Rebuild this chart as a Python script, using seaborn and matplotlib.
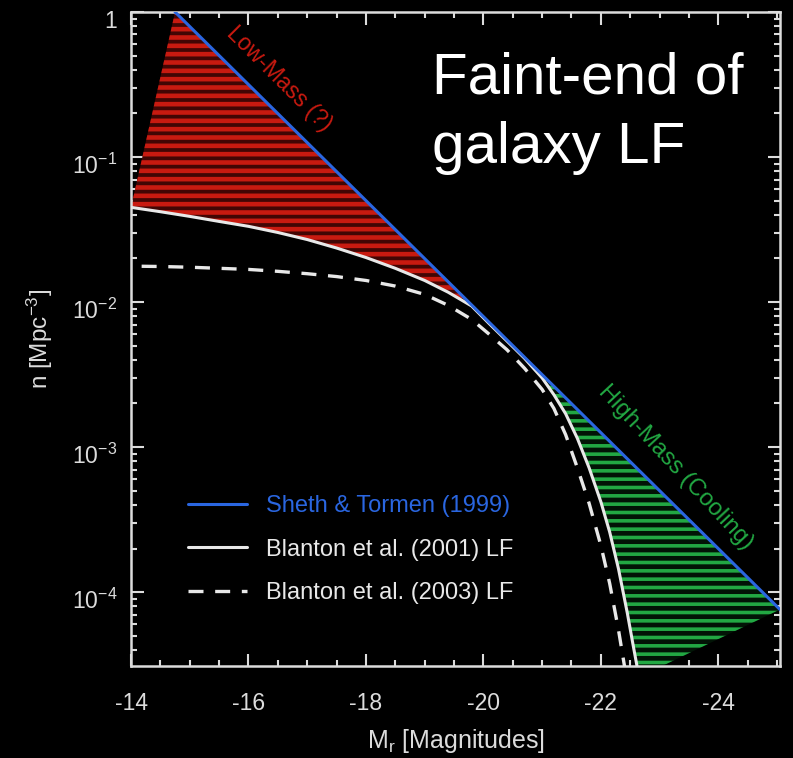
import matplotlib
matplotlib.use('Agg')
import matplotlib.pyplot as plt
import matplotlib.transforms as mtransforms
from matplotlib.ticker import MultipleLocator, FixedLocator, FixedFormatter, LogLocator, NullFormatter
import numpy as np
import pandas as pd
import seaborn as sns

# Sheth & Tormen (1999): reta em escala log
mag_st = [-14.75, -16.0, -18.0, -19.8, -21.0, -22.6, -25.05]
n_st = [1.0, 0.316, 0.0501, 0.00955, 0.00316, 7.24e-4, 7.6e-5]

# Blanton et al. (2001) LF - curva branca continua
mag_b01 = [-14.0, -14.5, -15.0, -15.5, -16.0, -16.5, -17.0, -17.5, -18.0, -18.5,
           -19.0, -19.4, -19.8, -20.1, -20.4, -20.7, -21.0, -21.2, -21.4, -21.6,
           -21.8, -22.0, -22.15, -22.3, -22.45, -22.55, -22.65]
n_b01 = [0.045, 0.042, 0.039, 0.036, 0.0333, 0.0302, 0.0270, 0.0236, 0.0203, 0.0171,
         0.0141, 0.0117, 0.0094, 0.0071, 0.0054, 0.0041, 0.0030, 0.0023, 0.0017, 0.00115,
         7.2e-4, 4.2e-4, 2.6e-4, 1.45e-4, 7.2e-5, 4.3e-5, 2.6e-5]

# Blanton et al. (2003) LF - curva tracejada
mag_b03 = [-14.0, -14.5, -15.0, -15.5, -16.0, -16.5, -17.0, -17.5, -18.0, -18.5,
           -19.0, -19.4, -19.8, -20.1, -20.4, -20.7, -21.0, -21.2, -21.4, -21.6,
           -21.8, -22.0, -22.15, -22.3, -22.42]
n_b03 = [0.0177, 0.0176, 0.0174, 0.0171, 0.0168, 0.0163, 0.0157, 0.0150, 0.0141, 0.0129,
         0.0113, 0.0095, 0.0076, 0.0060, 0.0047, 0.0035, 0.0025, 0.00185, 0.00122, 7.2e-4,
         4.1e-4, 2.1e-4, 1.15e-4, 5.5e-5, 2.8e-5]

# onde as regioes hachuradas terminam
mag_low_cut = -19.8
mag_high_cut = -21.0

COR_AZUL = '#2a66e0'
COR_BRANCO = '#e8e8e8'
COR_VERMELHO = '#c81a10'
COR_VERDE = '#22a843'

sns.set_theme(style='ticks', rc={
    'figure.facecolor': 'black',
    'axes.facecolor': 'black',
    'axes.edgecolor': '#dcdcdc',
    'axes.linewidth': 1.8,
    'xtick.color': '#dcdcdc',
    'ytick.color': '#dcdcdc',
    'text.color': '#dcdcdc',
    'axes.labelcolor': '#dcdcdc',
    'axes.unicode_minus': False,
})
plt.rcParams['font.family'] = ['Liberation Sans', 'DejaVu Sans']
plt.rcParams['mathtext.fontset'] = 'custom'
plt.rcParams['mathtext.rm'] = 'Liberation Sans'
plt.rcParams['mathtext.it'] = 'Liberation Sans:italic'
plt.rcParams['mathtext.default'] = 'regular'

fig = plt.figure(figsize=(7.93, 7.58), dpi=100)
ax = fig.add_axes([131 / 793, 92 / 758, 649 / 793, 654 / 758])

st = pd.DataFrame({'mag': mag_st, 'n': n_st})
b01 = pd.DataFrame({'mag': mag_b01, 'n': n_b01})
b03 = pd.DataFrame({'mag': mag_b03, 'n': n_b03})


def hachurar(xs, ys, cor_fundo, cor_linha, largura):
    plt.rcParams['hatch.linewidth'] = largura
    p = ax.fill(xs, ys, facecolor=cor_fundo, edgecolor=cor_linha, hatch='--',
                linewidth=0, zorder=1)[0]
    if hasattr(p, 'set_hatch_linewidth'):
        p.set_hatch_linewidth(largura)
    return p


# regiao de baixa massa (vermelha)
lo_st = st[st['mag'] >= mag_low_cut]
lo_b01 = b01[b01['mag'] >= mag_low_cut].iloc[::-1]
hachurar(list(lo_st['mag']) + list(lo_b01['mag']), list(lo_st['n']) + list(lo_b01['n']),
         '#420604', COR_VERMELHO, 3.3)

# regiao de alta massa (verde)
hi_b01 = b01[b01['mag'] <= mag_high_cut]
hi_st = st[st['mag'] <= mag_high_cut].iloc[::-1]
hachurar(list(hi_b01['mag']) + list(hi_st['mag']), list(hi_b01['n']) + list(hi_st['n']),
         '#021406', COR_VERDE, 2.6)

sns.lineplot(data=st, x='mag', y='n', color=COR_AZUL, linewidth=2.2,
             label='Sheth & Tormen (1999)', ax=ax, zorder=5)
sns.lineplot(data=b01, x='mag', y='n', color=COR_BRANCO, linewidth=2.2,
             label='Blanton et al. (2001) LF', ax=ax, zorder=4)
sns.lineplot(data=b03, x='mag', y='n', color=COR_BRANCO, linewidth=2.4,
             linestyle=(0, (4.5, 3.5)), label='Blanton et al. (2003) LF', ax=ax, zorder=3)

ax.set_yscale('log')
ax.set_xlim(-14, -25.05)
ax.set_ylim(3.1e-5, 1.0)

ax.xaxis.set_major_locator(MultipleLocator(2))
ax.xaxis.set_minor_locator(MultipleLocator(0.5))
ax.yaxis.set_major_locator(FixedLocator([1e-4, 1e-3, 1e-2, 1e-1, 1.0]))
ax.yaxis.set_major_formatter(FixedFormatter(['$10^{-4}$', '$10^{-3}$', '$10^{-2}$',
                                             '$10^{-1}$', '1']))
ax.yaxis.set_minor_locator(LogLocator(base=10, subs=np.arange(2, 10)))
ax.yaxis.set_minor_formatter(NullFormatter())

ax.tick_params(which='both', direction='in', top=True, right=True, width=1.5)
ax.tick_params(which='major', length=9, labelsize=16.5)
ax.tick_params(axis='x', which='major', pad=19)
ax.tick_params(axis='y', which='major', pad=10)
ax.tick_params(which='minor', length=4.5)
for s in ax.spines.values():
    s.set_visible(True)

ax.set_xlabel('$M_r$ [Magnitudes]', fontsize=18)
ax.set_ylabel('n [Mpc$^{-3}$]', fontsize=17.5)
ax.xaxis.set_label_coords(0.5, -0.093)
ax.yaxis.set_label_coords(-0.117, 0.5)

ax.text(-16.52, 0.345, 'Low-Mass (?)', color=COR_VERMELHO, fontsize=16.5,
        rotation=-45, ha='center', va='center', rotation_mode='anchor')
ax.text(-23.27, 7.2e-4, 'High-Mass (Cooling)', color=COR_VERDE, fontsize=17,
        rotation=-47, ha='center', va='center', rotation_mode='anchor')

ax.legend(loc='center left', bbox_to_anchor=(0.0878, 0.178), frameon=False,
          fontsize=17, handlelength=2.5, handletextpad=0.8, labelspacing=0.9,
          borderaxespad=0, borderpad=0, labelcolor='linecolor')

fig.text(432 / 793, 1 - 93 / 758, 'Faint-end of', color='white', fontsize=42, va='baseline')
fig.text(432 / 793, 1 - 163 / 758, 'galaxy LF', color='white', fontsize=42, va='baseline')

# rotulos do eixo y um pouco abaixo dos ticks, como no original
for tick in ax.yaxis.get_major_ticks():
    dy = -15 if tick.label1.get_text() == '1' else -7
    desloc = mtransforms.ScaledTranslation(0, dy / 100, fig.dpi_scale_trans)
    tick.label1.set_transform(tick.label1.get_transform() + desloc)

fig.savefig('out.png', dpi=100, facecolor='black')
